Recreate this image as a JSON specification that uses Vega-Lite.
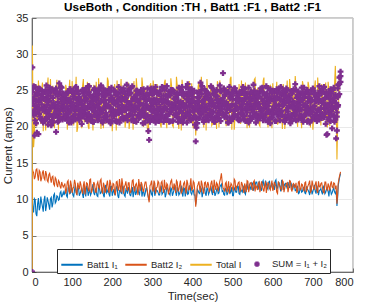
{
  "$schema": "https://vega.github.io/schema/vega-lite/v6.json",
  "autosize": {"type": "none"},
  "width": 321,
  "height": 254,
  "padding": {"left": 32, "top": 18, "right": 13, "bottom": 33},
  "background": "white",
  "title": {"text": "UseBoth , Condition :TH , Batt1 :F1 , Batt2 :F1", "fontSize": 11.8, "fontWeight": "bold", "color": "#000000", "font": "Liberation Sans", "offset": -1.5, "anchor": "middle"},
  "data": {"values": [
    {"t":0,"a":0,"b":0,"c":0,"s":0,"u":0,"v":0},
    {"t":1,"a":9.6,"b":14.3,"c":31.2,"s":28.2,"u":25.4,"v":24.8},
    {"t":4,"a":8.2,"b":13.7,"c":17.2,"s":21.6,"u":25.6,"v":23.2},
    {"t":8,"a":9.9,"b":13.1,"c":23.8,"s":25.5,"u":22.4,"v":20.9},
    {"t":12,"a":7.7,"b":14.2,"c":20.1,"s":19.2,"u":24.7,"v":22.8},
    {"t":16,"a":10.2,"b":12.6,"c":26.4,"s":23.4,"u":19.0,"v":24.6},
    {"t":20,"a":8.9,"b":13.8,"c":22.0,"s":25.2,"u":23.8,"v":21.4},
    {"t":24,"a":9.6,"b":12.9,"c":25.1,"s":21.0,"u":25.0,"v":23.1},
    {"t":28,"a":8.3,"b":14.0,"c":19.4,"s":24.1,"u":20.6,"v":22.5},
    {"t":32,"a":10.5,"b":12.7,"c":24.3,"s":22.2,"u":24.8,"v":21.1},
    {"t":36,"a":9.1,"b":13.5,"c":21.5,"s":25.7,"u":21.9,"v":23.9},
    {"t":40,"a":9.8,"b":12.4,"c":26.8,"s":20.3,"u":23.5,"v":24.3},
    {"t":44,"a":8.6,"b":13.6,"c":20.6,"s":23.6,"u":25.4,"v":21.7},
    {"t":48,"a":10.3,"b":12.3,"c":23.1,"s":24.9,"u":20.2,"v":22.8},
    {"t":52,"a":9.4,"b":13.2,"c":25.7,"s":21.4,"u":24.0,"v":20.6},
    {"t":56,"a":10.8,"b":11.9,"c":19.8,"s":23.0,"u":22.6,"v":24.9},
    {"t":60,"a":9.7,"b":12.8,"c":24.6,"s":25.3,"u":19.3,"v":22.1},
    {"t":64,"a":10.4,"b":11.7,"c":22.3,"s":20.7,"u":24.2,"v":23.4},
    {"t":68,"a":10.0,"b":12.4,"c":26.2,"s":26.0,"u":21.8,"v":21.2},
    {"t":72,"a":11.1,"b":11.5,"c":20.9,"s":22.5,"u":25.5,"v":23.8},
    {"t":76,"a":10.6,"b":12.0,"c":24.0,"s":24.4,"u":22.9,"v":21.0},
    {"t":80,"a":10.6,"b":11.9,"c":21.4,"s":22.8,"u":24.1,"v":23.5},
    {"t":84,"a":11.4,"b":10.8,"c":25.8,"s":24.6,"u":21.8,"v":22.4},
    {"t":88,"a":10.3,"b":12.4,"c":19.6,"s":21.3,"u":23.3,"v":24.7},
    {"t":92,"a":11.8,"b":11.1,"c":24.7,"s":23.5,"u":20.6,"v":22.0},
    {"t":96,"a":10.9,"b":12.6,"c":22.1,"s":25.2,"u":22.9,"v":21.2},
    {"t":100,"a":11.2,"b":10.9,"c":26.3,"s":20.9,"u":24.8,"v":23.1},
    {"t":104,"a":10.4,"b":11.7,"c":20.2,"s":23.9,"u":21.5,"v":22.6},
    {"t":108,"a":12.0,"b":12.2,"c":23.9,"s":22.2,"u":25.4,"v":21.0},
    {"t":112,"a":10.7,"b":10.6,"c":19.3,"s":24.9,"u":22.6,"v":23.3},
    {"t":116,"a":11.5,"b":11.8,"c":25.5,"s":21.7,"u":23.1,"v":24.5},
    {"t":120,"a":10.8,"b":12.5,"c":22.9,"s":23.6,"u":21.2,"v":22.2},
    {"t":124,"a":11.6,"b":11.2,"c":19.8,"s":20.4,"u":24.9,"v":23.0},
    {"t":128,"a":10.2,"b":11.9,"c":26.6,"s":24.7,"u":22.5,"v":21.4},
    {"t":132,"a":11.1,"b":10.7,"c":21.2,"s":22.0,"u":25.1,"v":23.6},
    {"t":136,"a":11.9,"b":12.3,"c":24.4,"s":21.1,"u":23.8,"v":24.6},
    {"t":140,"a":10.5,"b":11.4,"c":20.1,"s":25.6,"u":21.6,"v":22.9},
    {"t":144,"a":11.3,"b":12.7,"c":25.9,"s":22.7,"u":24.4,"v":21.1},
    {"t":148,"a":10.9,"b":10.9,"c":22.6,"s":20.8,"u":23.3,"v":24.1},
    {"t":152,"a":12.1,"b":11.6,"c":19.5,"s":24.2,"u":20.7,"v":22.3},
    {"t":156,"a":10.6,"b":12.1,"c":24.8,"s":23.0,"u":25.3,"v":21.6},
    {"t":160,"a":11.2,"b":11.0,"c":26.2,"s":21.9,"u":23.7,"v":24.8},
    {"t":164,"a":10.4,"b":12.4,"c":21.5,"s":24.3,"u":20.9,"v":22.7},
    {"t":168,"a":11.7,"b":11.5,"c":23.8,"s":22.6,"u":25.0,"v":21.3},
    {"t":172,"a":10.9,"b":12.8,"c":19.7,"s":25.7,"u":22.2,"v":23.6},
    {"t":176,"a":11.5,"b":10.8,"c":25.4,"s":20.6,"u":24.5,"v":22.4},
    {"t":180,"a":10.3,"b":11.9,"c":22.3,"s":23.4,"u":21.3,"v":24.9},
    {"t":184,"a":12.0,"b":11.3,"c":20.4,"s":24.8,"u":23.1,"v":21.9},
    {"t":188,"a":11.1,"b":12.6,"c":26.8,"s":21.4,"u":24.6,"v":22.8},
    {"t":192,"a":10.7,"b":10.9,"c":21.9,"s":25.2,"u":22.8,"v":23.7},
    {"t":196,"a":11.8,"b":12.2,"c":24.1,"s":22.1,"u":20.5,"v":24.3},
    {"t":200,"a":10.5,"b":11.4,"c":19.4,"s":24.0,"u":22.3,"v":20.9},
    {"t":204,"a":11.4,"b":12.1,"c":25.1,"s":21.5,"u":25.0,"v":23.2},
    {"t":208,"a":10.9,"b":10.7,"c":22.7,"s":23.2,"u":20.8,"v":24.4},
    {"t":212,"a":11.9,"b":12.5,"c":26.4,"s":20.7,"u":23.6,"v":22.1},
    {"t":216,"a":10.2,"b":11.2,"c":20.8,"s":25.5,"u":21.9,"v":23.5},
    {"t":220,"a":11.3,"b":11.8,"c":24.2,"s":22.4,"u":24.7,"v":21.0},
    {"t":224,"a":10.8,"b":12.9,"c":21.3,"s":24.1,"u":22.0,"v":23.0},
    {"t":228,"a":11.6,"b":10.8,"c":25.7,"s":21.0,"u":25.3,"v":22.6},
    {"t":232,"a":10.4,"b":12.0,"c":19.9,"s":23.7,"u":21.2,"v":24.5},
    {"t":236,"a":11.2,"b":11.5,"c":23.5,"s":25.8,"u":23.4,"v":21.5},
    {"t":240,"a":11.7,"b":12.3,"c":26.1,"s":22.5,"u":24.4,"v":23.1},
    {"t":244,"a":10.6,"b":10.9,"c":21.0,"s":24.6,"u":21.7,"v":22.6},
    {"t":248,"a":11.1,"b":11.6,"c":24.6,"s":20.9,"u":25.4,"v":23.5},
    {"t":252,"a":10.3,"b":12.7,"c":19.6,"s":23.9,"u":22.4,"v":21.1},
    {"t":256,"a":11.8,"b":11.1,"c":23.2,"s":22.1,"u":24.0,"v":22.9},
    {"t":260,"a":10.9,"b":12.2,"c":26.7,"s":25.0,"u":20.7,"v":23.7},
    {"t":264,"a":11.4,"b":10.6,"c":20.6,"s":21.6,"u":23.6,"v":24.6},
    {"t":268,"a":10.7,"b":11.9,"c":24.9,"s":23.3,"u":21.9,"v":22.3},
    {"t":272,"a":12.1,"b":12.4,"c":22.0,"s":24.7,"u":25.1,"v":21.7},
    {"t":276,"a":11.0,"b":11.3,"c":25.6,"s":20.5,"u":23.0,"v":24.2},
    {"t":280,"a":10.4,"b":11.8,"c":21.6,"s":23.8,"u":21.5,"v":22.4},
    {"t":284,"a":11.5,"b":12.4,"c":25.3,"s":21.3,"u":24.2,"v":23.1},
    {"t":288,"a":10.8,"b":11.0,"c":19.2,"s":25.3,"u":22.7,"v":21.6},
    {"t":292,"a":9.9,"b":9.6,"c":22.4,"s":18.2,"u":20.9,"v":23.9},
    {"t":296,"a":11.3,"b":12.1,"c":26.0,"s":22.9,"u":25.2,"v":21.4},
    {"t":300,"a":10.5,"b":11.4,"c":20.9,"s":24.4,"u":22.1,"v":23.3},
    {"t":304,"a":11.9,"b":12.6,"c":24.5,"s":21.1,"u":23.8,"v":22.5},
    {"t":308,"a":10.9,"b":10.8,"c":21.8,"s":25.5,"u":20.6,"v":23.6},
    {"t":312,"a":11.2,"b":11.7,"c":25.9,"s":22.3,"u":24.6,"v":21.2},
    {"t":316,"a":10.6,"b":12.3,"c":22.7,"s":20.8,"u":23.4,"v":24.5},
    {"t":320,"a":11.6,"b":11.2,"c":20.3,"s":24.9,"u":22.8,"v":21.5},
    {"t":324,"a":10.7,"b":12.5,"c":24.8,"s":22.0,"u":25.5,"v":23.4},
    {"t":328,"a":11.1,"b":10.9,"c":22.2,"s":20.7,"u":23.5,"v":24.3},
    {"t":332,"a":10.3,"b":11.7,"c":26.5,"s":23.6,"u":21.1,"v":22.6},
    {"t":336,"a":11.8,"b":12.2,"c":19.8,"s":25.6,"u":22.4,"v":21.0},
    {"t":340,"a":11.0,"b":10.7,"c":23.7,"s":21.8,"u":24.9,"v":23.1},
    {"t":344,"a":10.6,"b":11.9,"c":21.4,"s":24.3,"u":20.8,"v":22.4},
    {"t":348,"a":11.4,"b":12.7,"c":25.6,"s":22.6,"u":23.2,"v":24.7},
    {"t":352,"a":10.9,"b":11.3,"c":20.0,"s":20.9,"u":25.0,"v":22.8},
    {"t":356,"a":12.0,"b":11.8,"c":24.3,"s":23.9,"u":21.6,"v":23.3},
    {"t":360,"a":10.5,"b":12.6,"c":26.9,"s":21.4,"u":24.0,"v":22.5},
    {"t":364,"a":11.3,"b":11.1,"c":21.1,"s":23.5,"u":20.7,"v":24.4},
    {"t":368,"a":10.8,"b":12.0,"c":23.5,"s":25.3,"u":22.6,"v":21.1},
    {"t":372,"a":11.9,"b":10.9,"c":19.5,"s":22.2,"u":24.8,"v":23.0},
    {"t":376,"a":10.4,"b":11.6,"c":25.2,"s":20.6,"u":23.3,"v":24.8},
    {"t":380,"a":11.5,"b":12.4,"c":22.0,"s":24.5,"u":21.2,"v":22.9},
    {"t":384,"a":11.1,"b":10.8,"c":24.7,"s":22.9,"u":25.4,"v":21.7},
    {"t":388,"a":10.7,"b":12.2,"c":20.7,"s":25.9,"u":22.1,"v":23.8},
    {"t":392,"a":11.8,"b":11.4,"c":26.3,"s":21.6,"u":24.3,"v":22.8},
    {"t":396,"a":10.9,"b":12.9,"c":22.5,"s":23.2,"u":20.9,"v":24.5},
    {"t":400,"a":11.2,"b":11.5,"c":20.5,"s":24.6,"u":22.2,"v":23.6},
    {"t":404,"a":10.6,"b":12.3,"c":24.9,"s":22.1,"u":25.0,"v":21.5},
    {"t":408,"a":9.3,"b":9.0,"c":18.8,"s":18.0,"u":21.1,"v":22.6},
    {"t":412,"a":11.4,"b":11.8,"c":22.9,"s":23.4,"u":20.5,"v":24.7},
    {"t":416,"a":10.9,"b":12.5,"c":26.2,"s":21.2,"u":24.1,"v":22.9},
    {"t":420,"a":11.7,"b":11.0,"c":21.7,"s":26.1,"u":22.7,"v":21.8},
    {"t":424,"a":10.3,"b":12.1,"c":25.0,"s":22.8,"u":25.6,"v":23.4},
    {"t":428,"a":11.3,"b":10.8,"c":19.9,"s":20.7,"u":23.7,"v":22.1},
    {"t":432,"a":10.8,"b":12.4,"c":23.6,"s":24.2,"u":21.4,"v":22.8},
    {"t":436,"a":11.6,"b":11.7,"c":26.6,"s":22.5,"u":24.7,"v":21.0},
    {"t":440,"a":10.7,"b":12.0,"c":21.9,"s":20.9,"u":23.9,"v":24.4},
    {"t":444,"a":11.5,"b":11.3,"c":24.4,"s":23.7,"u":21.6,"v":22.3},
    {"t":448,"a":11.0,"b":12.6,"c":20.2,"s":25.4,"u":22.9,"v":21.4},
    {"t":452,"a":11.9,"b":10.9,"c":25.8,"s":22.0,"u":24.6,"v":23.3},
    {"t":456,"a":10.5,"b":11.9,"c":22.6,"s":24.8,"u":20.7,"v":22.9},
    {"t":460,"a":11.3,"b":12.3,"c":19.7,"s":21.5,"u":25.1,"v":23.7},
    {"t":464,"a":10.8,"b":11.1,"c":24.0,"s":23.3,"u":22.0,"v":21.1},
    {"t":468,"a":11.7,"b":12.5,"c":26.4,"s":25.7,"u":23.6,"v":22.1},
    {"t":472,"a":12.1,"b":13.6,"c":21.3,"s":22.4,"u":24.9,"v":23.0},
    {"t":476,"a":11.2,"b":11.6,"c":25.1,"s":27.4,"u":21.8,"v":24.0},
    {"t":480,"a":10.6,"b":11.1,"c":23.3,"s":24.4,"u":21.3,"v":22.8},
    {"t":484,"a":11.4,"b":12.4,"c":20.1,"s":21.9,"u":24.5,"v":23.4},
    {"t":488,"a":10.9,"b":11.7,"c":25.5,"s":23.1,"u":20.6,"v":24.8},
    {"t":492,"a":11.8,"b":10.8,"c":21.6,"s":25.5,"u":22.7,"v":21.3},
    {"t":496,"a":11.1,"b":12.2,"c":26.9,"s":20.8,"u":24.2,"v":22.9},
    {"t":500,"a":10.5,"b":11.5,"c":22.8,"s":23.8,"u":21.1,"v":24.6},
    {"t":504,"a":11.6,"b":12.8,"c":19.6,"s":22.2,"u":25.3,"v":21.7},
    {"t":508,"a":11.0,"b":11.2,"c":24.6,"s":24.9,"u":22.5,"v":23.2},
    {"t":512,"a":11.9,"b":11.9,"c":21.0,"s":21.3,"u":24.0,"v":22.5},
    {"t":516,"a":10.8,"b":12.4,"c":25.9,"s":23.5,"u":20.9,"v":24.4},
    {"t":520,"a":11.4,"b":11.3,"c":20.4,"s":22.7,"u":24.7,"v":21.0},
    {"t":524,"a":11.0,"b":12.1,"c":24.2,"s":25.1,"u":22.3,"v":23.7},
    {"t":528,"a":11.8,"b":10.9,"c":22.5,"s":21.0,"u":23.6,"v":24.8},
    {"t":532,"a":10.7,"b":11.7,"c":26.1,"s":23.9,"u":20.8,"v":22.5},
    {"t":536,"a":12.1,"b":12.6,"c":19.8,"s":24.6,"u":22.0,"v":23.1},
    {"t":540,"a":11.3,"b":11.0,"c":23.4,"s":20.6,"u":25.4,"v":22.6},
    {"t":544,"a":11.7,"b":12.3,"c":21.2,"s":24.0,"u":21.5,"v":23.2},
    {"t":548,"a":12.3,"b":11.6,"c":25.3,"s":22.3,"u":23.8,"v":21.1},
    {"t":552,"a":11.2,"b":12.4,"c":22.1,"s":25.8,"u":22.9,"v":24.1},
    {"t":556,"a":11.9,"b":11.1,"c":26.7,"s":21.7,"u":24.5,"v":22.8},
    {"t":560,"a":12.4,"b":11.7,"c":21.5,"s":23.3,"u":21.8,"v":24.7},
    {"t":564,"a":11.5,"b":12.2,"c":25.0,"s":21.4,"u":24.6,"v":23.0},
    {"t":568,"a":12.0,"b":11.0,"c":20.1,"s":24.9,"u":22.5,"v":21.2},
    {"t":572,"a":11.2,"b":12.5,"c":23.8,"s":22.2,"u":25.0,"v":23.9},
    {"t":576,"a":12.6,"b":11.4,"c":26.3,"s":20.9,"u":23.5,"v":22.4},
    {"t":580,"a":11.7,"b":11.9,"c":22.3,"s":24.3,"u":21.3,"v":23.0},
    {"t":584,"a":12.2,"b":10.9,"c":24.7,"s":22.8,"u":25.6,"v":21.8},
    {"t":588,"a":11.4,"b":12.3,"c":19.9,"s":25.3,"u":20.7,"v":22.9},
    {"t":592,"a":12.5,"b":11.5,"c":25.6,"s":21.1,"u":23.7,"v":24.2},
    {"t":596,"a":11.8,"b":12.0,"c":22.9,"s":23.9,"u":22.1,"v":25.0},
    {"t":600,"a":12.1,"b":11.2,"c":26.0,"s":25.0,"u":22.4,"v":21.3},
    {"t":604,"a":11.3,"b":12.4,"c":21.8,"s":22.6,"u":24.2,"v":23.7},
    {"t":608,"a":12.7,"b":11.8,"c":24.4,"s":20.8,"u":23.1,"v":22.0},
    {"t":612,"a":11.6,"b":10.8,"c":20.3,"s":24.1,"u":21.7,"v":24.9},
    {"t":616,"a":12.3,"b":12.1,"c":25.5,"s":23.0,"u":25.3,"v":21.9},
    {"t":620,"a":11.1,"b":11.5,"c":22.8,"s":25.5,"u":22.0,"v":23.7},
    {"t":624,"a":12.5,"b":12.6,"c":19.7,"s":21.6,"u":24.5,"v":22.9},
    {"t":628,"a":11.8,"b":11.0,"c":24.9,"s":23.6,"u":20.9,"v":24.2},
    {"t":632,"a":12.2,"b":11.9,"c":21.4,"s":24.8,"u":23.3,"v":21.6},
    {"t":636,"a":11.5,"b":12.3,"c":26.4,"s":21.2,"u":25.1,"v":23.5},
    {"t":640,"a":11.9,"b":11.6,"c":22.0,"s":22.9,"u":24.3,"v":21.5},
    {"t":644,"a":12.4,"b":12.5,"c":25.4,"s":20.5,"u":22.8,"v":23.9},
    {"t":648,"a":11.4,"b":11.1,"c":20.5,"s":24.6,"u":21.4,"v":22.8},
    {"t":652,"a":12.0,"b":12.2,"c":23.9,"s":21.9,"u":25.2,"v":23.3},
    {"t":656,"a":11.2,"b":11.7,"c":27.0,"s":25.9,"u":22.5,"v":21.1},
    {"t":660,"a":11.7,"b":10.9,"c":21.2,"s":23.2,"u":24.0,"v":22.2},
    {"t":664,"a":10.8,"b":12.4,"c":24.6,"s":21.0,"u":23.4,"v":24.9},
    {"t":668,"a":11.5,"b":11.3,"c":22.4,"s":24.4,"u":21.5,"v":23.0},
    {"t":672,"a":11.0,"b":12.1,"c":19.8,"s":22.4,"u":25.4,"v":21.6},
    {"t":676,"a":11.6,"b":11.5,"c":25.7,"s":20.7,"u":23.0,"v":24.3},
    {"t":680,"a":10.9,"b":12.3,"c":23.6,"s":24.2,"u":21.6,"v":23.0},
    {"t":684,"a":11.8,"b":11.0,"c":20.6,"s":22.0,"u":24.8,"v":21.8},
    {"t":688,"a":11.3,"b":11.9,"c":26.2,"s":23.5,"u":20.9,"v":22.6},
    {"t":692,"a":10.6,"b":12.6,"c":22.2,"s":20.6,"u":23.7,"v":24.5},
    {"t":696,"a":11.6,"b":11.2,"c":24.8,"s":25.0,"u":22.2,"v":23.6},
    {"t":700,"a":11.1,"b":12.0,"c":19.6,"s":22.7,"u":25.3,"v":21.4},
    {"t":704,"a":12.0,"b":11.4,"c":25.3,"s":24.6,"u":21.1,"v":22.9},
    {"t":708,"a":10.8,"b":12.5,"c":21.7,"s":21.3,"u":24.1,"v":23.5},
    {"t":712,"a":11.4,"b":10.9,"c":26.8,"s":23.8,"u":22.3,"v":21.2},
    {"t":716,"a":11.2,"b":11.8,"c":22.6,"s":25.6,"u":21.0,"v":24.3},
    {"t":720,"a":11.5,"b":12.2,"c":20.2,"s":21.5,"u":23.6,"v":22.6},
    {"t":724,"a":10.7,"b":11.6,"c":24.5,"s":24.9,"u":21.8,"v":23.3},
    {"t":728,"a":11.9,"b":10.9,"c":21.8,"s":22.6,"u":25.5,"v":21.3},
    {"t":732,"a":11.0,"b":12.4,"c":26.1,"s":20.4,"u":23.1,"v":24.5},
    {"t":736,"a":11.6,"b":11.3,"c":19.9,"s":24.3,"u":19.0,"v":22.4},
    {"t":740,"a":10.4,"b":11.8,"c":25.0,"s":22.0,"u":24.7,"v":21.3},
    {"t":744,"a":11.3,"b":12.1,"c":22.5,"s":25.2,"u":20.8,"v":23.8},
    {"t":748,"a":10.9,"b":11.7,"c":24.8,"s":22.8,"u":19.8,"v":22.7},
    {"t":752,"a":11.6,"b":12.3,"c":20.5,"s":23.9,"u":21.5,"v":25.4},
    {"t":756,"a":10.8,"b":11.4,"c":28.4,"s":24.4,"u":21.0,"v":22.9},
    {"t":760,"a":9.1,"b":9.4,"c":15.5,"s":19.5,"u":22.0,"v":21.4},
    {"t":763,"a":11.8,"b":12.2,"c":22.0,"s":25.8,"u":23.0,"v":24.3},
    {"t":766,"a":12.9,"b":13.1,"c":25.5,"s":26.8,"u":24.5,"v":25.9},
    {"t":769,"a":13.6,"b":13.8,"c":27.3,"s":27.6,"u":26.2,"v":27.0},
    {"t":2,"a":8.9,"b":13.9,"c":24.9,"s":25.3,"u":22.0,"v":23.7},
    {"t":6,"a":10.1,"b":12.8,"c":19.0,"s":22.9,"u":18.8,"v":24.2},
    {"t":10,"a":8.0,"b":14.1,"c":25.9,"s":20.5,"u":23.6,"v":21.8},
    {"t":14,"a":9.4,"b":13.3,"c":21.3,"s":24.4,"u":22.1,"v":25.1},
    {"t":18,"a":8.5,"b":14.0,"c":24.7,"s":21.8,"u":25.3,"v":22.6},
    {"t":22,"a":10.4,"b":12.5,"c":20.4,"s":23.7,"u":21.1,"v":24.0},
    {"t":26,"a":9.0,"b":13.7,"c":26.1,"s":20.9,"u":24.5,"v":22.3},
    {"t":30,"a":9.9,"b":12.9,"c":22.6,"s":24.8,"u":22.7,"v":20.8},
    {"t":34,"a":8.4,"b":13.9,"c":19.5,"s":22.4,"u":25.1,"v":23.6},
    {"t":38,"a":10.3,"b":12.6,"c":25.3,"s":21.1,"u":23.0,"v":24.7},
    {"t":42,"a":9.2,"b":13.4,"c":21.8,"s":24.9,"u":21.4,"v":22.2},
    {"t":46,"a":10.1,"b":12.9,"c":26.6,"s":22.6,"u":24.3,"v":20.7},
    {"t":50,"a":8.9,"b":13.1,"c":20.0,"s":20.9,"u":22.8,"v":25.2},
    {"t":54,"a":10.6,"b":12.1,"c":24.2,"s":25.0,"u":21.7,"v":23.3},
    {"t":58,"a":9.5,"b":13.0,"c":22.7,"s":23.0,"u":24.6,"v":21.5},
    {"t":62,"a":10.5,"b":12.0,"c":26.5,"s":21.6,"u":22.4,"v":24.8},
    {"t":66,"a":9.9,"b":12.6,"c":19.6,"s":24.5,"u":20.8,"v":22.9},
    {"t":70,"a":10.9,"b":11.8,"c":25.0,"s":22.3,"u":24.9,"v":21.2},
    {"t":74,"a":10.3,"b":12.4,"c":21.7,"s":25.4,"u":23.2,"v":23.9},
    {"t":78,"a":11.0,"b":11.7,"c":23.5,"s":21.4,"u":22.2,"v":24.6},
    {"t":82,"a":11.1,"b":12.2,"c":20.8,"s":23.9,"u":21.1,"v":24.4},
    {"t":86,"a":10.5,"b":11.3,"c":25.2,"s":21.5,"u":24.0,"v":22.7},
    {"t":90,"a":11.6,"b":12.6,"c":22.4,"s":24.7,"u":22.5,"v":20.9},
    {"t":94,"a":10.8,"b":10.9,"c":26.5,"s":22.0,"u":25.2,"v":23.8},
    {"t":98,"a":11.9,"b":12.0,"c":20.5,"s":20.6,"u":23.4,"v":22.3},
    {"t":102,"a":10.6,"b":11.5,"c":24.3,"s":24.2,"u":21.0,"v":25.0},
    {"t":106,"a":11.3,"b":12.7,"c":21.6,"s":22.9,"u":24.6,"v":21.7},
    {"t":110,"a":10.9,"b":11.0,"c":26.9,"s":25.5,"u":22.4,"v":23.9},
    {"t":114,"a":11.7,"b":12.3,"c":19.9,"s":21.2,"u":25.0,"v":22.6},
    {"t":118,"a":10.5,"b":11.4,"c":24.0,"s":23.8,"u":20.9,"v":24.1},
    {"t":122,"a":11.2,"b":12.0,"c":22.2,"s":22.4,"u":23.7,"v":21.5},
    {"t":126,"a":10.7,"b":10.8,"c":25.6,"s":25.1,"u":21.9,"v":23.2},
    {"t":130,"a":11.8,"b":12.5,"c":20.6,"s":21.7,"u":24.3,"v":22.8},
    {"t":134,"a":10.4,"b":11.6,"c":23.4,"s":24.0,"u":22.6,"v":25.3},
    {"t":138,"a":11.5,"b":12.2,"c":26.2,"s":22.5,"u":20.8,"v":23.5},
    {"t":142,"a":11.0,"b":11.1,"c":19.7,"s":25.6,"u":24.8,"v":21.8},
    {"t":146,"a":10.6,"b":12.8,"c":24.6,"s":20.9,"u":23.1,"v":24.2},
    {"t":150,"a":11.6,"b":11.3,"c":21.9,"s":23.6,"u":21.4,"v":22.5},
    {"t":154,"a":10.9,"b":12.4,"c":25.8,"s":22.1,"u":25.1,"v":20.7},
    {"t":158,"a":11.4,"b":11.0,"c":20.9,"s":24.5,"u":22.7,"v":23.8},
    {"t":162,"a":10.5,"b":12.1,"c":23.7,"s":21.3,"u":24.0,"v":22.0},
    {"t":166,"a":11.9,"b":11.7,"c":26.7,"s":23.2,"u":21.6,"v":25.2},
    {"t":170,"a":10.8,"b":12.6,"c":21.2,"s":25.3,"u":23.4,"v":21.9},
    {"t":174,"a":11.3,"b":11.2,"c":24.8,"s":20.8,"u":22.0,"v":24.5},
    {"t":178,"a":10.6,"b":12.3,"c":19.8,"s":24.1,"u":25.3,"v":22.6},
    {"t":182,"a":11.7,"b":10.9,"c":25.3,"s":22.6,"u":21.5,"v":23.7},
    {"t":186,"a":10.9,"b":12.0,"c":22.8,"s":21.0,"u":24.4,"v":20.9},
    {"t":190,"a":11.5,"b":11.5,"c":26.3,"s":24.9,"u":22.9,"v":23.0},
    {"t":194,"a":10.4,"b":12.7,"c":20.3,"s":22.8,"u":20.8,"v":24.8},
    {"t":198,"a":11.8,"b":11.2,"c":24.5,"s":25.4,"u":23.8,"v":21.6},
    {"t":202,"a":11.0,"b":12.2,"c":21.5,"s":21.9,"u":22.4,"v":23.4},
    {"t":206,"a":10.7,"b":10.9,"c":25.9,"s":23.5,"u":25.0,"v":22.1},
    {"t":210,"a":11.6,"b":12.4,"c":19.5,"s":20.8,"u":21.7,"v":24.6},
    {"t":214,"a":10.5,"b":11.6,"c":23.9,"s":24.6,"u":24.2,"v":22.8},
    {"t":218,"a":11.2,"b":12.8,"c":22.0,"s":22.0,"u":22.1,"v":20.6},
    {"t":222,"a":10.9,"b":11.0,"c":26.6,"s":25.1,"u":23.6,"v":23.9},
    {"t":226,"a":11.9,"b":12.1,"c":20.7,"s":21.3,"u":21.3,"v":25.1},
    {"t":230,"a":10.6,"b":11.7,"c":24.1,"s":23.8,"u":24.9,"v":22.3},
    {"t":234,"a":11.4,"b":12.5,"c":21.1,"s":22.3,"u":22.7,"v":24.0},
    {"t":238,"a":10.8,"b":11.2,"c":25.4,"s":24.9,"u":20.9,"v":21.4},
    {"t":242,"a":11.3,"b":12.3,"c":19.7,"s":21.6,"u":25.2,"v":23.3},
    {"t":246,"a":10.5,"b":11.0,"c":24.4,"s":23.1,"u":23.0,"v":24.7},
    {"t":250,"a":11.7,"b":12.6,"c":22.1,"s":25.6,"u":21.6,"v":22.2},
    {"t":254,"a":11.0,"b":11.4,"c":26.3,"s":20.9,"u":24.1,"v":20.8},
    {"t":258,"a":10.6,"b":12.0,"c":20.4,"s":24.3,"u":22.5,"v":23.6},
    {"t":262,"a":11.5,"b":11.7,"c":25.1,"s":22.7,"u":25.0,"v":24.4},
    {"t":266,"a":10.9,"b":12.8,"c":21.7,"s":21.4,"u":21.2,"v":22.9},
    {"t":270,"a":11.8,"b":11.2,"c":23.6,"s":24.8,"u":23.9,"v":21.3},
    {"t":274,"a":10.4,"b":12.1,"c":26.8,"s":22.0,"u":22.3,"v":25.0},
    {"t":278,"a":11.2,"b":11.0,"c":20.0,"s":25.2,"u":24.6,"v":23.1},
    {"t":282,"a":10.8,"b":12.4,"c":24.2,"s":20.6,"u":21.8,"v":22.4},
    {"t":286,"a":11.6,"b":11.5,"c":21.3,"s":23.6,"u":24.4,"v":24.5},
    {"t":290,"a":10.3,"b":10.2,"c":19.3,"s":19.4,"u":22.6,"v":21.0},
    {"t":294,"a":11.1,"b":11.9,"c":25.7,"s":24.7,"u":20.7,"v":23.6},
    {"t":298,"a":10.7,"b":12.6,"c":22.3,"s":22.5,"u":25.3,"v":22.2},
    {"t":302,"a":11.7,"b":11.1,"c":26.4,"s":21.0,"u":23.2,"v":24.7},
    {"t":306,"a":10.5,"b":12.2,"c":20.6,"s":25.0,"u":21.5,"v":21.9},
    {"t":310,"a":11.3,"b":11.6,"c":24.0,"s":23.1,"u":24.8,"v":23.8},
    {"t":314,"a":11.0,"b":12.5,"c":21.0,"s":21.7,"u":22.4,"v":22.5},
    {"t":318,"a":10.6,"b":11.0,"c":25.5,"s":24.5,"u":20.9,"v":24.9},
    {"t":322,"a":11.9,"b":12.3,"c":19.9,"s":22.2,"u":23.9,"v":21.2},
    {"t":326,"a":10.9,"b":11.5,"c":23.3,"s":25.4,"u":22.2,"v":23.6},
    {"t":330,"a":11.4,"b":12.7,"c":26.1,"s":21.3,"u":25.1,"v":22.8},
    {"t":334,"a":10.7,"b":11.3,"c":20.8,"s":23.5,"u":21.6,"v":24.3},
    {"t":338,"a":11.5,"b":12.0,"c":24.9,"s":24.2,"u":23.5,"v":21.5},
    {"t":342,"a":10.8,"b":11.2,"c":22.6,"s":20.7,"u":24.4,"v":23.2},
    {"t":346,"a":11.6,"b":12.5,"c":26.7,"s":22.4,"u":22.0,"v":25.1},
    {"t":350,"a":10.5,"b":11.7,"c":20.2,"s":25.1,"u":20.8,"v":22.3},
    {"t":354,"a":11.3,"b":12.2,"c":24.3,"s":23.0,"u":24.7,"v":23.9},
    {"t":358,"a":11.0,"b":10.9,"c":21.6,"s":21.8,"u":22.6,"v":21.7},
    {"t":362,"a":11.7,"b":12.4,"c":25.7,"s":24.6,"u":21.4,"v":24.6},
    {"t":366,"a":10.6,"b":11.4,"c":19.7,"s":22.0,"u":25.4,"v":22.9},
    {"t":370,"a":11.2,"b":12.6,"c":23.8,"s":20.8,"u":23.1,"v":23.5},
    {"t":374,"a":10.9,"b":11.1,"c":26.5,"s":25.5,"u":21.9,"v":21.1},
    {"t":378,"a":11.6,"b":12.2,"c":21.4,"s":22.7,"u":24.2,"v":24.4},
    {"t":382,"a":10.4,"b":11.6,"c":24.6,"s":21.5,"u":22.9,"v":22.6},
    {"t":386,"a":11.4,"b":12.7,"c":20.3,"s":24.3,"u":20.6,"v":23.8},
    {"t":390,"a":10.8,"b":11.3,"c":25.3,"s":23.4,"u":24.8,"v":21.6},
    {"t":394,"a":11.9,"b":12.0,"c":22.1,"s":21.1,"u":22.1,"v":25.2},
    {"t":398,"a":10.7,"b":11.2,"c":26.0,"s":25.2,"u":23.8,"v":22.8},
    {"t":402,"a":11.3,"b":12.5,"c":19.8,"s":22.6,"u":21.2,"v":24.1},
    {"t":406,"a":10.6,"b":11.0,"c":23.7,"s":20.3,"u":23.3,"v":21.4},
    {"t":410,"a":10.2,"b":10.1,"c":20.6,"s":21.3,"u":19.9,"v":22.7},
    {"t":414,"a":11.2,"b":12.1,"c":25.6,"s":24.0,"u":22.4,"v":23.6},
    {"t":418,"a":10.8,"b":11.5,"c":21.2,"s":22.4,"u":24.8,"v":21.9},
    {"t":422,"a":11.5,"b":12.6,"c":26.9,"s":25.1,"u":21.7,"v":24.5},
    {"t":426,"a":10.9,"b":11.2,"c":22.4,"s":21.0,"u":23.5,"v":22.3},
    {"t":430,"a":11.7,"b":12.3,"c":25.1,"s":23.8,"u":25.2,"v":23.1},
    {"t":434,"a":10.5,"b":11.7,"c":19.5,"s":24.8,"u":22.3,"v":21.4},
    {"t":438,"a":11.4,"b":12.4,"c":24.3,"s":21.7,"u":24.0,"v":24.7},
    {"t":442,"a":11.0,"b":11.0,"c":21.5,"s":23.2,"u":21.6,"v":22.9},
    {"t":446,"a":11.8,"b":12.2,"c":25.9,"s":25.6,"u":23.9,"v":23.6},
    {"t":450,"a":10.6,"b":11.6,"c":20.4,"s":22.1,"u":22.0,"v":21.1},
    {"t":454,"a":11.3,"b":12.7,"c":24.7,"s":20.7,"u":25.0,"v":24.4},
    {"t":458,"a":10.8,"b":11.3,"c":22.2,"s":24.3,"u":21.3,"v":22.6},
    {"t":462,"a":11.6,"b":12.1,"c":26.3,"s":22.8,"u":24.2,"v":23.8},
    {"t":466,"a":10.9,"b":11.8,"c":19.9,"s":21.2,"u":22.8,"v":21.6},
    {"t":470,"a":11.9,"b":12.9,"c":24.8,"s":24.9,"u":20.8,"v":25.0},
    {"t":474,"a":11.1,"b":12.4,"c":21.8,"s":23.3,"u":23.6,"v":22.4},
    {"t":478,"a":10.7,"b":11.4,"c":25.7,"s":21.6,"u":25.3,"v":23.4},
    {"t":482,"a":11.5,"b":12.2,"c":20.9,"s":25.0,"u":21.9,"v":24.9},
    {"t":486,"a":10.6,"b":11.0,"c":24.0,"s":22.4,"u":23.0,"v":21.3},
    {"t":490,"a":11.3,"b":12.5,"c":22.5,"s":20.6,"u":24.7,"v":22.8},
    {"t":494,"a":10.9,"b":11.6,"c":26.6,"s":24.1,"u":22.3,"v":23.9},
    {"t":498,"a":11.7,"b":12.0,"c":19.6,"s":23.0,"u":21.2,"v":24.6},
    {"t":502,"a":10.5,"b":11.3,"c":24.9,"s":21.4,"u":25.1,"v":22.2},
    {"t":506,"a":11.4,"b":12.6,"c":21.3,"s":25.3,"u":22.9,"v":21.6},
    {"t":510,"a":11.0,"b":11.8,"c":25.4,"s":22.6,"u":24.3,"v":23.7},
    {"t":514,"a":11.8,"b":12.3,"c":20.7,"s":21.0,"u":21.7,"v":22.5},
    {"t":518,"a":10.7,"b":11.1,"c":23.9,"s":24.7,"u":23.8,"v":24.8},
    {"t":522,"a":11.2,"b":12.4,"c":26.4,"s":23.0,"u":22.0,"v":21.9},
    {"t":526,"a":11.6,"b":11.5,"c":20.9,"s":21.5,"u":25.5,"v":23.2},
    {"t":530,"a":10.9,"b":12.2,"c":24.6,"s":25.2,"u":21.5,"v":24.4},
    {"t":534,"a":11.9,"b":11.0,"c":22.0,"s":22.3,"u":24.1,"v":22.7},
    {"t":538,"a":11.4,"b":12.5,"c":25.8,"s":20.8,"u":22.7,"v":20.9},
    {"t":542,"a":12.0,"b":11.7,"c":19.9,"s":24.5,"u":23.9,"v":23.5},
    {"t":546,"a":11.3,"b":12.3,"c":24.1,"s":22.8,"u":21.1,"v":24.9},
    {"t":550,"a":12.2,"b":11.2,"c":21.7,"s":21.3,"u":24.6,"v":22.0},
    {"t":554,"a":11.6,"b":12.6,"c":26.5,"s":25.0,"u":22.4,"v":23.7},
    {"t":558,"a":12.4,"b":11.9,"c":22.5,"s":23.7,"u":20.6,"v":21.4},
    {"t":562,"a":11.7,"b":11.3,"c":25.2,"s":20.9,"u":24.4,"v":24.2},
    {"t":566,"a":12.5,"b":12.4,"c":20.3,"s":24.2,"u":23.2,"v":22.7},
    {"t":570,"a":11.5,"b":11.6,"c":24.3,"s":22.1,"u":21.5,"v":25.3},
    {"t":574,"a":12.3,"b":12.0,"c":21.9,"s":25.4,"u":24.8,"v":21.8},
    {"t":578,"a":11.9,"b":11.1,"c":26.8,"s":21.6,"u":22.6,"v":23.6},
    {"t":582,"a":12.6,"b":12.5,"c":20.8,"s":23.4,"u":20.9,"v":24.5},
    {"t":586,"a":11.6,"b":11.7,"c":24.9,"s":24.6,"u":24.0,"v":22.1},
    {"t":590,"a":12.4,"b":12.2,"c":21.2,"s":22.0,"u":22.3,"v":23.3},
    {"t":594,"a":11.5,"b":11.3,"c":25.7,"s":20.5,"u":25.2,"v":21.2},
    {"t":598,"a":12.2,"b":12.6,"c":19.8,"s":24.8,"u":21.7,"v":24.7},
    {"t":602,"a":11.8,"b":11.5,"c":24.2,"s":21.8,"u":23.6,"v":22.8},
    {"t":606,"a":12.5,"b":12.1,"c":22.7,"s":23.9,"u":22.9,"v":20.8},
    {"t":610,"a":11.4,"b":11.0,"c":26.2,"s":25.2,"u":24.7,"v":23.9},
    {"t":614,"a":12.3,"b":12.5,"c":20.6,"s":22.1,"u":21.4,"v":22.5},
    {"t":618,"a":11.7,"b":11.8,"c":24.5,"s":20.9,"u":23.8,"v":24.6},
    {"t":622,"a":12.6,"b":11.3,"c":22.0,"s":24.5,"u":22.2,"v":21.6},
    {"t":626,"a":11.3,"b":12.4,"c":25.9,"s":23.2,"u":25.0,"v":23.0},
    {"t":630,"a":12.1,"b":11.6,"c":19.7,"s":21.4,"u":20.7,"v":24.2},
    {"t":634,"a":11.9,"b":12.2,"c":24.0,"s":25.3,"u":24.3,"v":22.3},
    {"t":638,"a":12.4,"b":11.0,"c":21.5,"s":22.6,"u":22.1,"v":23.8},
    {"t":642,"a":11.6,"b":12.6,"c":26.6,"s":24.0,"u":23.4,"v":21.1},
    {"t":646,"a":12.2,"b":11.4,"c":20.9,"s":20.8,"u":21.5,"v":24.9},
    {"t":650,"a":11.4,"b":12.1,"c":24.7,"s":23.5,"u":24.9,"v":22.6},
    {"t":654,"a":12.0,"b":11.7,"c":22.3,"s":21.7,"u":22.7,"v":23.3},
    {"t":658,"a":11.2,"b":12.3,"c":25.5,"s":25.1,"u":20.9,"v":21.7},
    {"t":662,"a":11.8,"b":11.2,"c":20.0,"s":22.9,"u":24.2,"v":24.4},
    {"t":666,"a":10.9,"b":12.5,"c":24.2,"s":24.5,"u":22.5,"v":22.2},
    {"t":670,"a":11.5,"b":11.4,"c":21.7,"s":21.2,"u":23.8,"v":23.6},
    {"t":674,"a":11.1,"b":12.0,"c":26.3,"s":23.7,"u":21.0,"v":24.8},
    {"t":678,"a":11.7,"b":11.1,"c":20.7,"s":25.4,"u":24.6,"v":21.5},
    {"t":682,"a":10.8,"b":12.4,"c":24.4,"s":22.3,"u":22.8,"v":23.1},
    {"t":686,"a":11.4,"b":11.6,"c":22.6,"s":20.7,"u":25.1,"v":22.4},
    {"t":690,"a":11.0,"b":12.2,"c":25.6,"s":24.0,"u":21.8,"v":24.1},
    {"t":694,"a":11.8,"b":11.0,"c":19.9,"s":22.6,"u":23.4,"v":21.9},
    {"t":698,"a":10.7,"b":12.6,"c":24.1,"s":21.0,"u":22.0,"v":23.7},
    {"t":702,"a":11.5,"b":11.5,"c":21.1,"s":25.0,"u":24.5,"v":22.5},
    {"t":706,"a":11.1,"b":12.1,"c":26.4,"s":23.6,"u":21.6,"v":24.6},
    {"t":710,"a":11.9,"b":11.2,"c":20.5,"s":22.0,"u":23.9,"v":20.8},
    {"t":714,"a":10.6,"b":12.5,"c":24.7,"s":24.6,"u":22.4,"v":23.4},
    {"t":718,"a":11.3,"b":11.7,"c":22.2,"s":21.6,"u":25.0,"v":22.0},
    {"t":722,"a":11.0,"b":12.3,"c":25.9,"s":23.4,"u":21.2,"v":24.7},
    {"t":726,"a":11.7,"b":11.0,"c":20.8,"s":25.3,"u":23.7,"v":21.6},
    {"t":730,"a":10.8,"b":12.4,"c":24.2,"s":21.8,"u":22.5,"v":23.9},
    {"t":734,"a":11.4,"b":11.5,"c":21.0,"s":24.1,"u":24.8,"v":18.9},
    {"t":738,"a":11.1,"b":12.2,"c":26.2,"s":22.7,"u":21.0,"v":22.9},
    {"t":742,"a":11.6,"b":11.2,"c":20.1,"s":20.9,"u":23.3,"v":24.2},
    {"t":746,"a":10.7,"b":12.5,"c":24.6,"s":24.6,"u":22.1,"v":21.7},
    {"t":750,"a":11.3,"b":11.6,"c":22.3,"s":22.5,"u":25.1,"v":23.5},
    {"t":754,"a":11.0,"b":12.2,"c":25.8,"s":21.4,"u":20.7,"v":24.0},
    {"t":758,"a":11.2,"b":11.9,"c":24.0,"s":23.3,"u":18.4,"v":22.6},
    {"t":762,"a":10.5,"b":11.0,"c":21.0,"s":24.1,"u":22.8,"v":25.3}
  ]},
  "encoding": {
    "x": {"field": "t", "type": "quantitative", "title": "Time(sec)", "scale": {"domain": [0, 800], "nice": false}, "axis": {"values": [0,100,200,300,400,500,600,700,800], "labelOverlap": false}}
  },
  "layer": [
    {"mark": {"type": "line", "strokeWidth": 1.1, "clip": true}, "encoding": {"y": {"field": "a", "type": "quantitative", "title": "Current (amps)", "scale": {"domain": [0, 35], "nice": false}, "axis": {"values": [0,5,10,15,20,25,30,35], "tickCount": 8, "labelOverlap": false}}, "color": {"datum": "Batt1 I₁", "scale": {"domain": ["Batt1 I₁", "Batt2 I₂", "Total I", "SUM = I₁ + I₂"], "range": ["#0072BD", "#D95319", "#EDB120", "#7E2F8E"]}, "legend": {"orient": "none", "legendX": 25, "legendY": 231, "direction": "horizontal", "title": null, "labelFontSize": 9.5, "labelFont": "Liberation Sans", "labelColor": "#262626", "columnPadding": 3, "labelOffset": 3, "padding": 3, "strokeColor": "#262626", "fillColor": "white", "symbolSize": 460, "symbolType": "stroke", "symbolStrokeWidth": 2}}}},
    {"mark": {"type": "line", "strokeWidth": 1.1, "clip": true}, "encoding": {"y": {"field": "b", "type": "quantitative", "title": "Current (amps)", "axis": {"values": [0,5,10,15,20,25,30,35], "tickCount": 8, "labelOverlap": false}}, "color": {"datum": "Batt2 I₂"}}},
    {"mark": {"type": "line", "strokeWidth": 1.1, "clip": true}, "encoding": {"y": {"field": "c", "type": "quantitative", "title": "Current (amps)", "axis": {"values": [0,5,10,15,20,25,30,35], "tickCount": 8, "labelOverlap": false}}, "color": {"datum": "Total I"}}},
    {"mark": {"type": "point", "filled": true, "size": 1500, "opacity": 1, "clip": true}, "encoding": {"y": {"field": "s", "type": "quantitative", "title": "Current (amps)", "axis": {"values": [0,5,10,15,20,25,30,35], "tickCount": 8, "labelOverlap": false}}, "color": {"datum": "SUM = I₁ + I₂"}, "shape": {"datum": "SUM = I₁ + I₂", "scale": {"domain": ["Batt1 I₁", "Batt2 I₂", "Total I", "SUM = I₁ + I₂"], "range": ["stroke", "stroke", "stroke", "M-0.15,-0.06H-0.06V-0.15H0.06V-0.06H0.15V0.06H0.06V0.15H-0.06V0.06H-0.15Z"]}}}},
    {"mark": {"type": "point", "filled": true, "size": 1500, "opacity": 1, "clip": true}, "encoding": {"y": {"field": "u", "type": "quantitative", "title": "Current (amps)", "axis": {"values": [0,5,10,15,20,25,30,35], "tickCount": 8, "labelOverlap": false}}, "color": {"datum": "SUM = I₁ + I₂"}, "shape": {"datum": "SUM = I₁ + I₂"}}},
    {"mark": {"type": "point", "filled": true, "size": 1500, "opacity": 1, "clip": true}, "encoding": {"y": {"field": "v", "type": "quantitative", "title": "Current (amps)", "axis": {"values": [0,5,10,15,20,25,30,35], "tickCount": 8, "labelOverlap": false}}, "color": {"datum": "SUM = I₁ + I₂"}, "shape": {"datum": "SUM = I₁ + I₂"}}}
  ],
  "config": {
    "font": "Liberation Sans",
    "view": {"stroke": "#262626", "strokeWidth": 0.6},
    "axis": {"labelFont": "Liberation Sans", "labelFontSize": 11, "labelColor": "#262626", "labelOverlap": false, "titleFont": "Liberation Sans", "titleFontSize": 11.5, "titleFontWeight": "normal", "titleColor": "#262626", "domainColor": "#262626", "domainWidth": 0.6, "tickColor": "#262626", "tickWidth": 0.6, "tickSize": -4, "gridColor": "#dfdfdf", "gridWidth": 0.7, "labelPadding": 8},
    "axisY": {"titleX": -19, "titleY": 127, "tickCount": 8},
    "axisX": {"titlePadding": 3}
  }
}
